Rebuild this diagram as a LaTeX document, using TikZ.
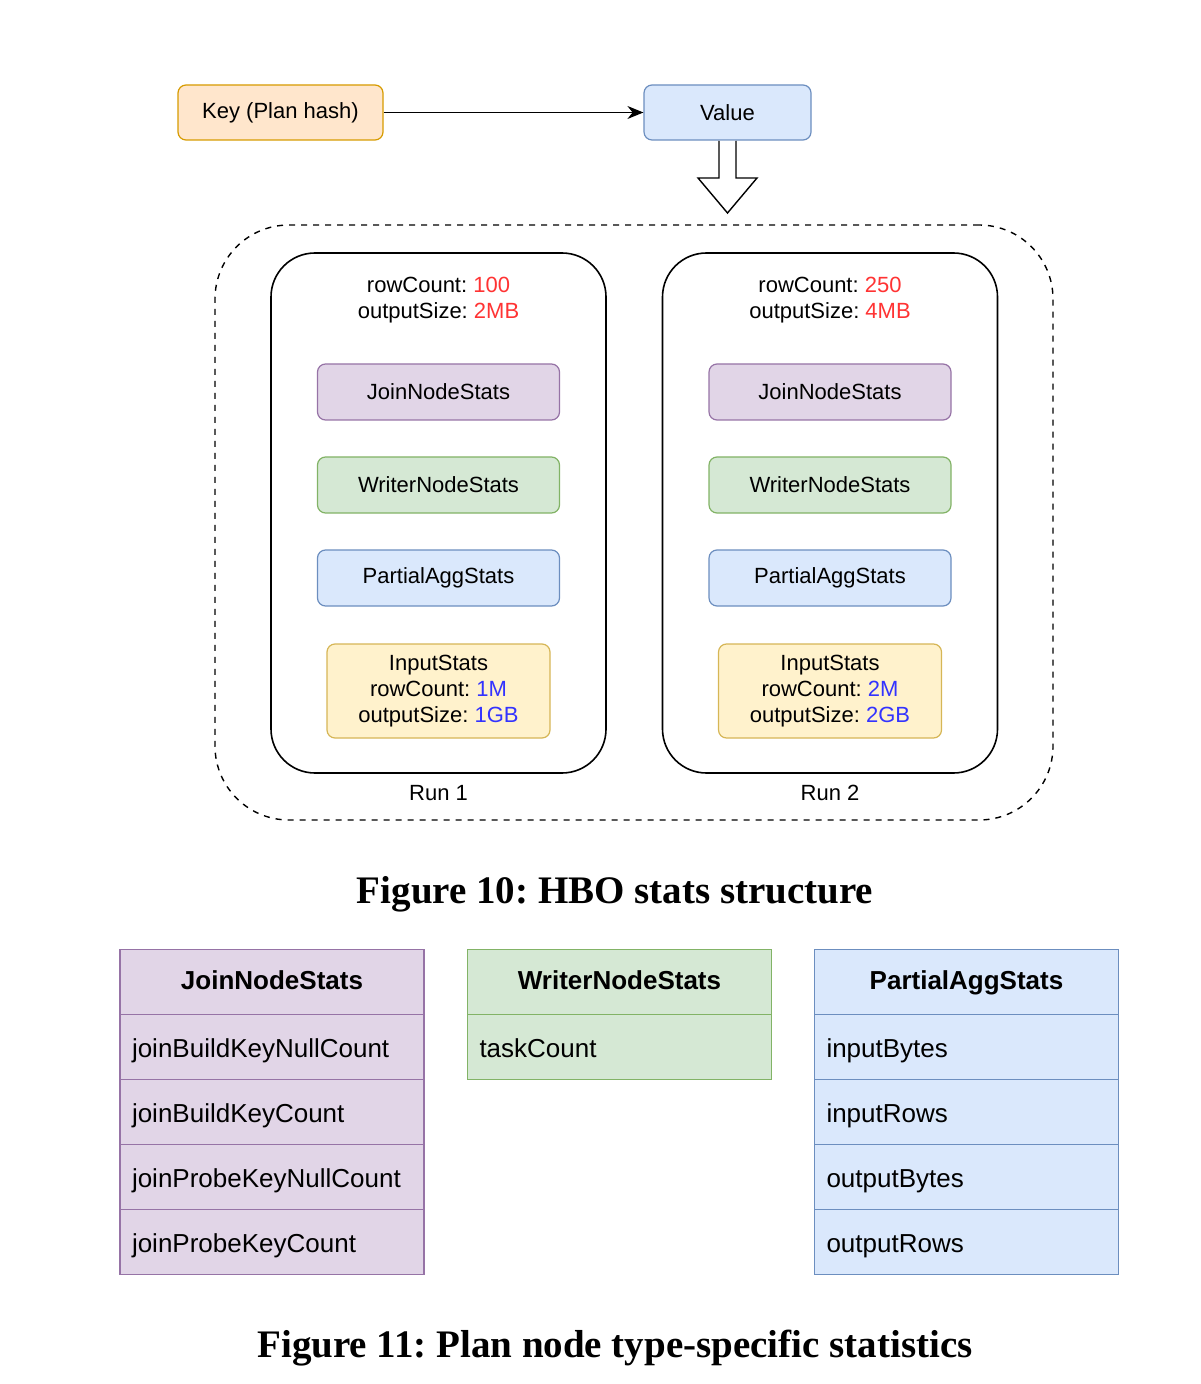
\documentclass[tikz,border=0pt]{standalone}
\usepackage{fontspec}
\setmainfont{Liberation Sans}
\newfontfamily\capfont{Liberation Serif}
\usetikzlibrary{positioning,arrows.meta}
\frenchspacing
\definecolor{keyfill}{HTML}{FFE6CC}
\definecolor{keydraw}{HTML}{D79B00}
\definecolor{bluefill}{HTML}{DAE8FC}
\definecolor{bluedraw}{HTML}{6C8EBF}
\definecolor{joinfill}{HTML}{E1D5E7}
\definecolor{joindraw}{HTML}{9673A6}
\definecolor{writerfill}{HTML}{D5E8D4}
\definecolor{writerdraw}{HTML}{82B366}
\definecolor{inputfill}{HTML}{FFF2CC}
\definecolor{inputdraw}{HTML}{D6B656}
\definecolor{valred}{HTML}{FF3333}
\definecolor{valblue}{HTML}{3333FF}
\tikzset{
  stat/.style={draw, line width=0.6pt, rounded corners=4pt, minimum width=121pt,
    minimum height=28pt, inner sep=0pt, align=center},
  joinbox/.style={stat, fill=joinfill, draw=joindraw},
  writerbox/.style={stat, fill=writerfill, draw=writerdraw},
  partialbox/.style={stat, fill=bluefill, draw=bluedraw},
  inputbox/.style={stat, fill=inputfill, draw=inputdraw, minimum width=111.5pt,
    minimum height=47pt},
  runbox/.style={draw, line width=0.8pt, rounded corners=22pt, minimum width=167.5pt,
    minimum height=260pt},
  tabcell/.style={draw, line width=0.9pt, minimum width=152pt, minimum height=32.5pt,
    inner xsep=6pt, font=\fontsize{13}{15.6}\selectfont},
  tabhead/.style={tabcell, font=\fontsize{13}{15.6}\selectfont\bfseries,
    text height=10pt, text depth=2.5pt},
  tabrow/.style={tabcell, text width=140pt, align=left, text height=11.5pt,
    text depth=1.5pt},
  figcap/.style={font=\capfont\bfseries\fontsize{19.5}{23}\selectfont}
}
\begin{document}
\begin{tikzpicture}[x=0.5pt, y=-0.5pt, font=\fontsize{11}{13}\selectfont]
\useasboundingbox (0,0) rectangle (1200,1384);
% key and value
\node[stat, fill=keyfill, draw=keydraw, minimum width=102.5pt, minimum height=27.5pt]
  (key) at (280.5,112.5) {Key (Plan hash)};
\node[stat, fill=bluefill, draw=bluedraw, minimum width=83.5pt, minimum height=27.5pt]
  (value) at (727.5,112.5) {Value};
\draw[-{Stealth[length=8pt,width=6.5pt]}, line width=0.6pt] (key) -- (value);
% hollow arrow
\draw[line width=0.7pt, fill=white] (719,141) -- (719,178) -- (698,178) -- (727.5,213)
  -- (757,178) -- (736,178) -- (736,141);
% runs
\node[draw, dashed, line width=0.7pt, rounded corners=37pt, minimum width=419pt,
  minimum height=297.5pt] (outer) at (634,522.5) {};
\foreach \i/\cx/\rc/\os/\irc/\ios in {1/438.5/100/2MB/1M/1GB, 2/830/250/4MB/2M/2GB}{
  \node[runbox] (run\i) at (\cx,513) {};
  \node[align=center] (top\i) at (\cx,300) {rowCount: \textcolor{valred}{\rc}\\
    outputSize: \textcolor{valred}{\os}};
  \node[joinbox] (join\i) at (\cx,392) {JoinNodeStats};
  \node[writerbox] (writer\i) at (\cx,485) {WriterNodeStats};
  \node[partialbox] (partial\i) at (\cx,578) {PartialAggStats};
  \node[inputbox] (input\i) at (\cx,691) {InputStats\\rowCount: \textcolor{valblue}{\irc}\\
    outputSize: \textcolor{valblue}{\ios}};
  \node (label\i) at (\cx,793) {Run \i};
}
\node[figcap] (cap10) at (615,894) {Figure 10: HBO stats structure};
% tables
\node[tabhead, fill=joinfill, draw=joindraw] (jhead) at (272,982) {JoinNodeStats};
\foreach \t [count=\n] in {joinBuildKeyNullCount, joinBuildKeyCount,
  joinProbeKeyNullCount, joinProbeKeyCount}
  \node[tabrow, fill=joinfill, draw=joindraw] (jrow\n) at (272,982+65*\n) {\t};
\node[tabhead, fill=writerfill, draw=writerdraw] (whead) at (619.5,982) {WriterNodeStats};
\node[tabrow, fill=writerfill, draw=writerdraw] (wrow1) at (619.5,1047) {taskCount};
\node[tabhead, fill=bluefill, draw=bluedraw] (phead) at (966.5,982) {PartialAggStats};
\foreach \t [count=\n] in {inputBytes, inputRows, outputBytes, outputRows}
  \node[tabrow, fill=bluefill, draw=bluedraw] (prow\n) at (966.5,982+65*\n) {\t};
\node[figcap] (cap11) at (615,1348) {Figure 11: Plan node type-specific statistics};
\end{tikzpicture}
\end{document}
